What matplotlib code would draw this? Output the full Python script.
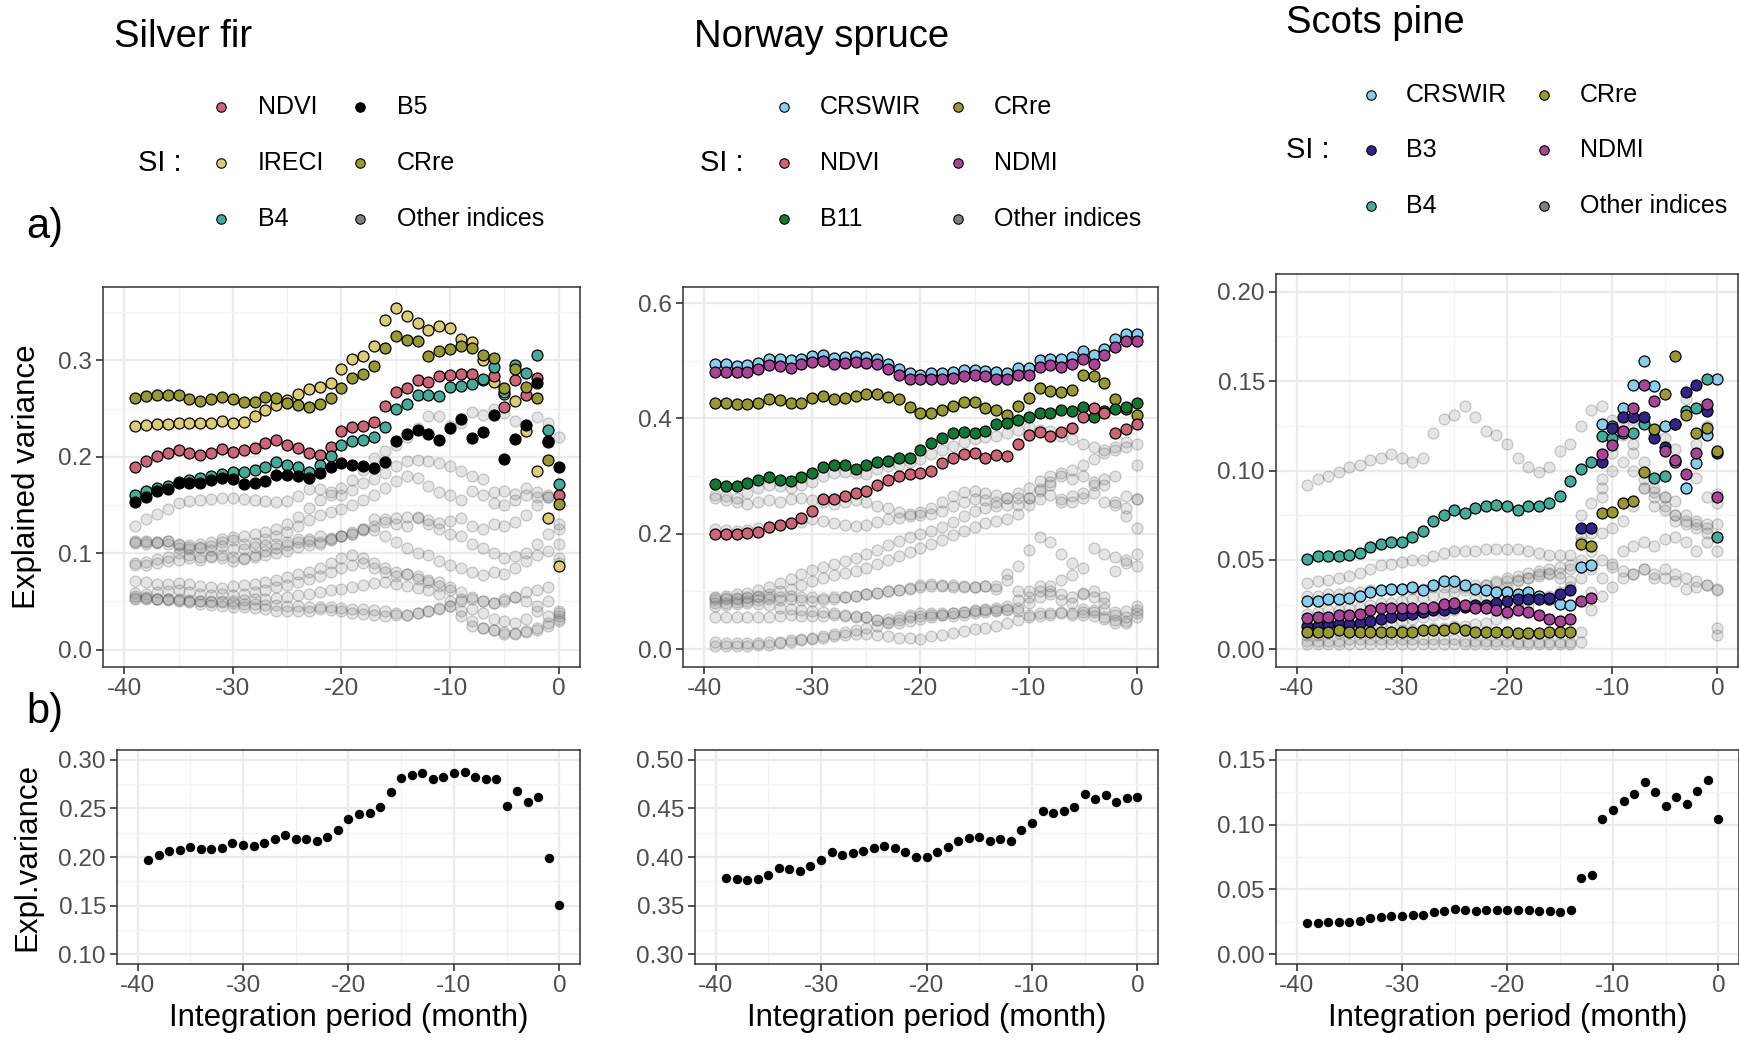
import matplotlib.pyplot as plt
from matplotlib.lines import Line2D
from matplotlib.ticker import FixedLocator, FormatStrFormatter

plt.rcParams['font.family'] = ['Liberation Sans', 'DejaVu Sans']

W, H = 1740, 1042
months = list(range(-39, 1))

C_NDVI = '#CC6677'
C_IRECI = '#DDCC77'
C_B4 = '#44AA99'
C_B5 = '#000000'
C_CRRE = '#999933'
C_CRSWIR = '#88CCEE'
C_NDMI = '#AA4499'
C_B11 = '#117733'
C_B3 = '#332288'
C_OTHER = '#808080'

# ---------------- Silver fir ----------------
fir_ireci = [0.232, 0.233, 0.234, 0.234, 0.235, 0.235, 0.235, 0.235, 0.237, 0.235,
             0.236, 0.242, 0.248, 0.254, 0.259, 0.265, 0.270, 0.272, 0.276, 0.291,
             0.301, 0.304, 0.315, 0.342, 0.354, 0.346, 0.339, 0.331, 0.336, 0.333,
             0.322, 0.319, 0.300, 0.277, 0.265, 0.258, 0.227, 0.185, 0.136, 0.087]
fir_ndvi = [0.189, 0.196, 0.201, 0.204, 0.207, 0.204, 0.202, 0.204, 0.208, 0.205,
            0.207, 0.209, 0.214, 0.217, 0.212, 0.209, 0.204, 0.202, 0.210, 0.227,
            0.231, 0.232, 0.236, 0.253, 0.267, 0.271, 0.280, 0.277, 0.284, 0.285,
            0.286, 0.286, 0.280, 0.284, 0.252, 0.280, 0.264, 0.282, 0.215, 0.160]
fir_b4 = [0.160, 0.165, 0.168, 0.170, 0.174, 0.176, 0.178, 0.180, 0.182, 0.184,
          0.184, 0.186, 0.189, 0.195, 0.191, 0.189, 0.184, 0.191, 0.201, 0.212,
          0.216, 0.217, 0.220, 0.231, 0.249, 0.255, 0.264, 0.264, 0.263, 0.272,
          0.273, 0.275, 0.281, 0.293, 0.267, 0.295, 0.287, 0.306, 0.228, 0.172]
fir_crre = [0.261, 0.263, 0.264, 0.264, 0.264, 0.260, 0.258, 0.260, 0.262, 0.260,
            0.257, 0.257, 0.262, 0.261, 0.256, 0.254, 0.252, 0.255, 0.261, 0.271,
            0.282, 0.286, 0.294, 0.313, 0.325, 0.321, 0.320, 0.304, 0.310, 0.312,
            0.315, 0.313, 0.305, 0.302, 0.271, 0.291, 0.272, 0.261, 0.197, 0.151]
fir_b5 = [0.153, 0.158, 0.164, 0.167, 0.173, 0.173, 0.173, 0.176, 0.178, 0.177,
          0.172, 0.173, 0.175, 0.181, 0.181, 0.180, 0.178, 0.183, 0.189, 0.193,
          0.191, 0.190, 0.188, 0.195, 0.216, 0.224, 0.228, 0.224, 0.217, 0.230,
          0.239, 0.219, 0.226, 0.243, 0.198, 0.218, 0.233, 0.276, 0.216, 0.189]
fir_other = [
    [0.128, 0.135, 0.141, 0.146, 0.152, 0.154, 0.155, 0.156, 0.157, 0.157,
     0.156, 0.155, 0.154, 0.153, 0.154, 0.159, 0.167, 0.167, 0.163, 0.160,
     0.166, 0.173, 0.177, 0.183, 0.190, 0.196, 0.197, 0.196, 0.194, 0.190,
     0.185, 0.180, 0.177, 0.163, 0.165, 0.161, 0.168, 0.163, 0.158, 0.125],
    [0.112, 0.113, 0.112, 0.110, 0.108, 0.109, 0.110, 0.112, 0.115, 0.117,
     0.118, 0.120, 0.122, 0.125, 0.130, 0.138, 0.147, 0.155, 0.160, 0.168,
     0.176, 0.186, 0.199, 0.206, 0.212, 0.220, 0.230, 0.242, 0.242, 0.232,
     0.235, 0.246, 0.243, 0.249, 0.245, 0.237, 0.232, 0.241, 0.235, 0.220],
    [0.111, 0.110, 0.111, 0.113, 0.105, 0.104, 0.106, 0.107, 0.112, 0.114,
     0.110, 0.111, 0.115, 0.118, 0.122, 0.128, 0.134, 0.140, 0.143, 0.146,
     0.150, 0.155, 0.160, 0.168, 0.175, 0.180, 0.178, 0.170, 0.163, 0.160,
     0.155, 0.165, 0.160, 0.152, 0.150, 0.155, 0.160, 0.158, 0.160, 0.130],
    [0.090, 0.091, 0.094, 0.096, 0.100, 0.098, 0.096, 0.097, 0.095, 0.092,
     0.094, 0.096, 0.098, 0.100, 0.102, 0.106, 0.108, 0.112, 0.115, 0.118,
     0.120, 0.124, 0.128, 0.132, 0.136, 0.138, 0.137, 0.134, 0.131, 0.133,
     0.136, 0.128, 0.125, 0.130, 0.128, 0.132, 0.140, 0.150, 0.158, 0.110],
    [0.088, 0.088, 0.090, 0.092, 0.093, 0.095, 0.093, 0.096, 0.098, 0.096,
     0.095, 0.098, 0.102, 0.105, 0.108, 0.112, 0.115, 0.118, 0.116, 0.118,
     0.120, 0.125, 0.135, 0.135, 0.130, 0.128, 0.138, 0.130, 0.125, 0.120,
     0.118, 0.110, 0.105, 0.100, 0.095, 0.097, 0.100, 0.110, 0.120, 0.095],
    [0.113, 0.112, 0.112, 0.113, 0.110, 0.106, 0.105, 0.103, 0.107, 0.104,
     0.104, 0.106, 0.108, 0.110, 0.112, 0.115, 0.113, 0.110, 0.114, 0.118,
     0.122, 0.125, 0.124, 0.118, 0.112, 0.105, 0.100, 0.098, 0.092, 0.088,
     0.085, 0.080, 0.077, 0.080, 0.078, 0.085, 0.092, 0.098, 0.102, 0.090],
    [0.071, 0.070, 0.068, 0.068, 0.069, 0.068, 0.066, 0.065, 0.064, 0.066,
     0.067, 0.068, 0.070, 0.072, 0.075, 0.078, 0.080, 0.085, 0.090, 0.095,
     0.098, 0.095, 0.090, 0.085, 0.080, 0.078, 0.076, 0.072, 0.070, 0.065,
     0.060, 0.055, 0.050, 0.048, 0.050, 0.055, 0.060, 0.062, 0.065, 0.040],
    [0.059, 0.058, 0.060, 0.061, 0.062, 0.060, 0.058, 0.057, 0.058, 0.057,
     0.058, 0.060, 0.062, 0.065, 0.067, 0.070, 0.073, 0.076, 0.080, 0.085,
     0.088, 0.090, 0.085, 0.080, 0.076, 0.078, 0.073, 0.070, 0.066, 0.062,
     0.052, 0.042, 0.038, 0.032, 0.030, 0.028, 0.032, 0.040, 0.050, 0.032],
    [0.054, 0.054, 0.053, 0.053, 0.052, 0.051, 0.050, 0.050, 0.049, 0.048,
     0.047, 0.047, 0.046, 0.046, 0.045, 0.045, 0.044, 0.044, 0.044, 0.043,
     0.042, 0.042, 0.041, 0.040, 0.038, 0.036, 0.038, 0.040, 0.042, 0.045,
     0.040, 0.030, 0.022, 0.020, 0.018, 0.017, 0.018, 0.020, 0.025, 0.030],
    [0.052, 0.052, 0.052, 0.051, 0.051, 0.050, 0.050, 0.049, 0.050, 0.050,
     0.051, 0.052, 0.053, 0.054, 0.055, 0.057, 0.058, 0.060, 0.062, 0.063,
     0.065, 0.067, 0.069, 0.070, 0.068, 0.066, 0.064, 0.062, 0.058, 0.050,
     0.035, 0.025, 0.022, 0.020, 0.016, 0.016, 0.019, 0.022, 0.028, 0.035],
    [0.056, 0.055, 0.053, 0.052, 0.050, 0.049, 0.047, 0.046, 0.045, 0.044,
     0.044, 0.043, 0.042, 0.040, 0.040, 0.040, 0.040, 0.042, 0.041, 0.040,
     0.038, 0.037, 0.036, 0.035, 0.036, 0.036, 0.038, 0.040, 0.043, 0.045,
     0.050, 0.052, 0.050, 0.048, 0.052, 0.055, 0.050, 0.045, 0.035, 0.038],
]
fir_total = [0.197, 0.202, 0.206, 0.207, 0.210, 0.208, 0.208, 0.209, 0.214, 0.212,
             0.211, 0.214, 0.218, 0.223, 0.219, 0.219, 0.216, 0.221, 0.228, 0.239,
             0.244, 0.245, 0.251, 0.267, 0.281, 0.284, 0.286, 0.280, 0.282, 0.286,
             0.287, 0.282, 0.280, 0.280, 0.252, 0.268, 0.257, 0.262, 0.199, 0.151]

# ---------------- Norway spruce ----------------
spr_crswir = [0.494, 0.494, 0.491, 0.492, 0.497, 0.504, 0.503, 0.501, 0.504, 0.508,
              0.510, 0.505, 0.506, 0.508, 0.507, 0.503, 0.494, 0.485, 0.478, 0.476,
              0.478, 0.479, 0.481, 0.484, 0.484, 0.483, 0.481, 0.479, 0.488, 0.488,
              0.501, 0.504, 0.503, 0.507, 0.517, 0.510, 0.521, 0.537, 0.547, 0.546]
spr_ndmi = [0.481, 0.481, 0.480, 0.480, 0.485, 0.492, 0.491, 0.488, 0.494, 0.498,
            0.499, 0.495, 0.496, 0.498, 0.497, 0.494, 0.485, 0.476, 0.468, 0.468,
            0.468, 0.469, 0.471, 0.474, 0.475, 0.473, 0.469, 0.468, 0.475, 0.476,
            0.490, 0.492, 0.490, 0.494, 0.503, 0.494, 0.510, 0.524, 0.535, 0.535]
spr_crre = [0.426, 0.426, 0.425, 0.425, 0.426, 0.434, 0.432, 0.426, 0.427, 0.435,
            0.439, 0.434, 0.435, 0.439, 0.443, 0.442, 0.438, 0.433, 0.420, 0.410,
            0.410, 0.414, 0.421, 0.428, 0.429, 0.418, 0.414, 0.406, 0.421, 0.435,
            0.453, 0.447, 0.446, 0.449, 0.475, 0.473, 0.462, 0.433, 0.416, 0.406]
spr_b11 = [0.287, 0.283, 0.283, 0.288, 0.294, 0.298, 0.294, 0.292, 0.298, 0.305,
           0.315, 0.320, 0.319, 0.313, 0.319, 0.325, 0.326, 0.331, 0.331, 0.345,
           0.357, 0.366, 0.374, 0.377, 0.375, 0.379, 0.391, 0.392, 0.397, 0.403,
           0.410, 0.410, 0.414, 0.413, 0.420, 0.402, 0.413, 0.416, 0.420, 0.427]
spr_ndvi = [0.199, 0.199, 0.199, 0.201, 0.203, 0.212, 0.216, 0.219, 0.228, 0.239,
            0.260, 0.261, 0.265, 0.270, 0.275, 0.284, 0.293, 0.300, 0.303, 0.305,
            0.309, 0.322, 0.331, 0.338, 0.340, 0.332, 0.336, 0.335, 0.355, 0.371,
            0.377, 0.370, 0.377, 0.384, 0.403, 0.419, 0.410, 0.375, 0.381, 0.390]
spr_other = [
    [0.268, 0.265, 0.262, 0.270, 0.280, 0.285, 0.283, 0.280, 0.285, 0.290,
     0.300, 0.305, 0.308, 0.305, 0.303, 0.312, 0.318, 0.320, 0.325, 0.330,
     0.338, 0.345, 0.352, 0.360, 0.365, 0.368, 0.370, 0.375, 0.380, 0.385,
     0.380, 0.378, 0.370, 0.365, 0.355, 0.350, 0.345, 0.350, 0.360, 0.355],
    [0.262, 0.258, 0.255, 0.252, 0.255, 0.258, 0.255, 0.260, 0.262, 0.258,
     0.255, 0.252, 0.255, 0.258, 0.255, 0.248, 0.245, 0.238, 0.235, 0.238,
     0.245, 0.255, 0.265, 0.272, 0.275, 0.270, 0.268, 0.262, 0.250, 0.262,
     0.275, 0.285, 0.260, 0.255, 0.262, 0.270, 0.255, 0.255, 0.265, 0.260],
    [0.208, 0.207, 0.205, 0.206, 0.210, 0.212, 0.215, 0.218, 0.220, 0.225,
     0.222, 0.218, 0.215, 0.213, 0.215, 0.220, 0.225, 0.228, 0.230, 0.232,
     0.235, 0.240, 0.248, 0.255, 0.260, 0.258, 0.255, 0.262, 0.270, 0.280,
     0.292, 0.300, 0.305, 0.310, 0.320, 0.330, 0.340, 0.345, 0.350, 0.320],
    [0.090, 0.092, 0.095, 0.098, 0.102, 0.108, 0.115, 0.122, 0.130, 0.138,
     0.143, 0.148, 0.152, 0.158, 0.165, 0.172, 0.180, 0.188, 0.195, 0.200,
     0.205, 0.212, 0.220, 0.230, 0.240, 0.245, 0.248, 0.250, 0.262, 0.262,
     0.278, 0.290, 0.300, 0.295, 0.300, 0.290, 0.285, 0.250, 0.245, 0.210],
    [0.085, 0.087, 0.088, 0.090, 0.092, 0.095, 0.100, 0.105, 0.112, 0.118,
     0.123, 0.128, 0.132, 0.135, 0.140, 0.148, 0.155, 0.162, 0.168, 0.175,
     0.182, 0.190, 0.198, 0.205, 0.212, 0.218, 0.222, 0.225, 0.235, 0.250,
     0.260, 0.268, 0.255, 0.265, 0.270, 0.285, 0.295, 0.300, 0.230, 0.260],
    [0.088, 0.088, 0.087, 0.088, 0.090, 0.091, 0.090, 0.092, 0.091, 0.090,
     0.089, 0.090, 0.090, 0.092, 0.095, 0.098, 0.100, 0.103, 0.106, 0.112,
     0.113, 0.112, 0.111, 0.110, 0.108, 0.109, 0.110, 0.130, 0.145, 0.172,
     0.195, 0.185, 0.165, 0.150, 0.140, 0.175, 0.165, 0.160, 0.150, 0.165],
    [0.080, 0.080, 0.082, 0.084, 0.086, 0.087, 0.086, 0.087, 0.085, 0.084,
     0.086, 0.087, 0.090, 0.092, 0.095, 0.097, 0.100, 0.102, 0.105, 0.108,
     0.110, 0.110, 0.108, 0.107, 0.108, 0.110, 0.105, 0.120, 0.100, 0.090,
     0.100, 0.110, 0.120, 0.128, 0.095, 0.100, 0.090, 0.135, 0.155, 0.145],
    [0.055, 0.055, 0.055, 0.055, 0.055, 0.055, 0.057, 0.060, 0.058, 0.057,
     0.058, 0.060, 0.058, 0.056, 0.055, 0.050, 0.052, 0.055, 0.060, 0.062,
     0.062, 0.060, 0.058, 0.060, 0.062, 0.065, 0.066, 0.068, 0.072, 0.080,
     0.090, 0.095, 0.085, 0.080, 0.070, 0.065, 0.055, 0.050, 0.048, 0.055],
    [0.075, 0.076, 0.078, 0.080, 0.078, 0.076, 0.072, 0.070, 0.068, 0.066,
     0.065, 0.062, 0.060, 0.058, 0.055, 0.050, 0.047, 0.045, 0.048, 0.052,
     0.055, 0.060, 0.062, 0.065, 0.066, 0.068, 0.068, 0.070, 0.066, 0.060,
     0.062, 0.062, 0.065, 0.062, 0.060, 0.058, 0.052, 0.045, 0.046, 0.062],
    [0.005, 0.005, 0.005, 0.006, 0.007, 0.008, 0.010, 0.012, 0.015, 0.018,
     0.020, 0.022, 0.025, 0.027, 0.026, 0.024, 0.022, 0.020, 0.020, 0.018,
     0.022, 0.025, 0.028, 0.032, 0.035, 0.037, 0.040, 0.045, 0.050, 0.055,
     0.058, 0.060, 0.062, 0.060, 0.065, 0.068, 0.070, 0.065, 0.066, 0.068],
    [0.012, 0.011, 0.010, 0.010, 0.011, 0.012, 0.013, 0.015, 0.017, 0.020,
     0.023, 0.026, 0.030, 0.033, 0.036, 0.040, 0.045, 0.050, 0.055, 0.058,
     0.060, 0.062, 0.063, 0.065, 0.068, 0.070, 0.072, 0.075, 0.085, 0.100,
     0.110, 0.100, 0.095, 0.090, 0.098, 0.090, 0.080, 0.060, 0.055, 0.075],
]
spr_total = [0.378, 0.377, 0.376, 0.377, 0.381, 0.389, 0.388, 0.386, 0.391, 0.397,
             0.405, 0.402, 0.404, 0.406, 0.409, 0.411, 0.409, 0.405, 0.400, 0.400,
             0.405, 0.410, 0.416, 0.420, 0.421, 0.416, 0.419, 0.416, 0.428, 0.435,
             0.447, 0.445, 0.447, 0.451, 0.465, 0.460, 0.464, 0.457, 0.461, 0.462]

# ---------------- Scots pine ----------------
pin_crswir = [0.027, 0.027, 0.028, 0.028, 0.029, 0.030, 0.032, 0.033, 0.034, 0.034,
              0.035, 0.033, 0.036, 0.038, 0.038, 0.036, 0.034, 0.033, 0.032, 0.032,
              0.031, 0.032, 0.030, 0.028, 0.0255, 0.025, 0.046, 0.047, 0.126, 0.125,
              0.135, 0.148, 0.161, 0.147, 0.125, 0.105, 0.090, 0.104, 0.120, 0.151]
pin_b4 = [0.0505, 0.052, 0.052, 0.052, 0.053, 0.054, 0.057, 0.059, 0.060, 0.060,
          0.063, 0.066, 0.072, 0.075, 0.078, 0.076, 0.079, 0.080, 0.081, 0.080,
          0.078, 0.080, 0.080, 0.082, 0.086, 0.094, 0.101, 0.105, 0.119, 0.118,
          0.121, 0.121, 0.126, 0.096, 0.097, 0.126, 0.133, 0.135, 0.151, 0.063]
pin_b3 = [0.013, 0.013, 0.014, 0.014, 0.014, 0.015, 0.016, 0.017, 0.018, 0.019,
          0.020, 0.021, 0.022, 0.022, 0.023, 0.024, 0.025, 0.025, 0.026, 0.027,
          0.028, 0.028, 0.028, 0.029, 0.031, 0.033, 0.068, 0.068, 0.105, 0.124,
          0.130, 0.130, 0.130, 0.118, 0.113, 0.126, 0.144, 0.148, 0.133, 0.110]
pin_ndmi = [0.0177, 0.018, 0.018, 0.019, 0.019, 0.020, 0.022, 0.023, 0.023, 0.023,
            0.023, 0.023, 0.024, 0.0255, 0.026, 0.025, 0.023, 0.023, 0.022, 0.021,
            0.022, 0.021, 0.019, 0.017, 0.016, 0.017, 0.027, 0.029, 0.109, 0.114,
            0.122, 0.135, 0.148, 0.139, 0.111, 0.106, 0.098, 0.110, 0.137, 0.085]
pin_crre = [0.010, 0.010, 0.010, 0.011, 0.010, 0.010, 0.010, 0.010, 0.010, 0.010,
            0.010, 0.011, 0.011, 0.011, 0.012, 0.011, 0.010, 0.010, 0.010, 0.010,
            0.009, 0.009, 0.009, 0.010, 0.010, 0.010, 0.059, 0.058, 0.076, 0.077,
            0.082, 0.083, 0.099, 0.123, 0.143, 0.164, 0.131, 0.121, 0.124, 0.111]
pin_other = [
    [0.092, 0.095, 0.097, 0.099, 0.102, 0.103, 0.106, 0.107, 0.109, 0.107,
     0.105, 0.107, 0.121, 0.129, 0.131, 0.136, 0.130, 0.122, 0.120, 0.115,
     0.107, 0.102, 0.099, 0.102, 0.111, 0.115, 0.125, 0.134, 0.136, 0.128,
     0.125, 0.128, 0.130, 0.120, 0.118, 0.112, 0.140, 0.115, 0.125, 0.087],
    [0.037, 0.038, 0.039, 0.040, 0.041, 0.043, 0.045, 0.047, 0.048, 0.049,
     0.050, 0.050, 0.052, 0.054, 0.055, 0.055, 0.055, 0.056, 0.056, 0.056,
     0.056, 0.055, 0.054, 0.053, 0.053, 0.053, 0.063, 0.068, 0.085, 0.100,
     0.105, 0.100, 0.090, 0.080, 0.078, 0.072, 0.070, 0.070, 0.068, 0.055],
    [0.030, 0.030, 0.031, 0.031, 0.032, 0.032, 0.033, 0.033, 0.033, 0.034,
     0.034, 0.034, 0.035, 0.035, 0.035, 0.035, 0.036, 0.036, 0.037, 0.038,
     0.039, 0.040, 0.041, 0.042, 0.043, 0.045, 0.050, 0.055, 0.065, 0.068,
     0.072, 0.080, 0.090, 0.085, 0.080, 0.075, 0.075, 0.072, 0.070, 0.070],
    [0.020, 0.021, 0.022, 0.022, 0.023, 0.024, 0.025, 0.026, 0.026, 0.027,
     0.028, 0.029, 0.030, 0.031, 0.032, 0.033, 0.034, 0.036, 0.038, 0.040,
     0.041, 0.043, 0.044, 0.043, 0.040, 0.038, 0.040, 0.045, 0.050, 0.048,
     0.044, 0.042, 0.045, 0.040, 0.040, 0.038, 0.034, 0.035, 0.036, 0.034],
    [0.003, 0.003, 0.003, 0.003, 0.003, 0.003, 0.003, 0.003, 0.003, 0.003,
     0.003, 0.003, 0.003, 0.003, 0.003, 0.003, 0.003, 0.003, 0.003, 0.003,
     0.003, 0.003, 0.003, 0.003, 0.003, 0.003, 0.004, 0.022, 0.030, 0.035,
     0.040, 0.042, 0.045, 0.042, 0.045, 0.042, 0.040, 0.038, 0.036, 0.033],
    [0.005, 0.005, 0.005, 0.005, 0.006, 0.006, 0.006, 0.006, 0.006, 0.006,
     0.006, 0.006, 0.006, 0.006, 0.006, 0.005, 0.005, 0.005, 0.005, 0.005,
     0.004, 0.004, 0.004, 0.004, 0.004, 0.004, 0.010, 0.032, 0.040, 0.046,
     0.055, 0.058, 0.060, 0.058, 0.062, 0.063, 0.060, 0.055, 0.060, 0.012],
    [0.012, 0.012, 0.012, 0.013, 0.013, 0.013, 0.014, 0.014, 0.015, 0.016,
     0.017, 0.018, 0.019, 0.020, 0.022, 0.025, 0.028, 0.030, 0.032, 0.035,
     0.038, 0.040, 0.042, 0.045, 0.046, 0.047, 0.075, 0.082, 0.095, 0.110,
     0.120, 0.110, 0.095, 0.088, 0.085, 0.083, 0.090, 0.096, 0.085, 0.082],
    [0.008, 0.008, 0.009, 0.009, 0.010, 0.010, 0.010, 0.010, 0.010, 0.011,
     0.011, 0.011, 0.012, 0.012, 0.013, 0.013, 0.014, 0.015, 0.017, 0.020,
     0.023, 0.025, 0.028, 0.030, 0.032, 0.035, 0.060, 0.065, 0.090, 0.115,
     0.122, 0.115, 0.105, 0.090, 0.085, 0.075, 0.072, 0.068, 0.065, 0.008],
]
pin_total = [0.0241, 0.0241, 0.0246, 0.0246, 0.0251, 0.0256, 0.0277, 0.0284, 0.0292, 0.0297,
             0.0302, 0.0302, 0.0323, 0.0335, 0.0348, 0.0343, 0.0330, 0.0341, 0.0343, 0.0341,
             0.0341, 0.0341, 0.0330, 0.0330, 0.0328, 0.0343, 0.0591, 0.0609, 0.1044, 0.1116,
             0.1185, 0.1239, 0.1326, 0.1249, 0.1142, 0.1213, 0.1160, 0.1257, 0.1341, 0.1044]

species = [
    dict(title='Silver fir',
         legend=[('NDVI', C_NDVI), ('IRECI', C_IRECI), ('B4', C_B4),
                 ('B5', C_B5), ('CRre', C_CRRE), ('Other indices', C_OTHER)],
         series=[(fir_ireci, C_IRECI), (fir_ndvi, C_NDVI), (fir_b4, C_B4),
                 (fir_crre, C_CRRE), (fir_b5, C_B5)],
         other=fir_other, total=fir_total,
         top_box=(103, 287, 580, 667), top_ylim=(-0.018, 0.376),
         top_ticks=[0.0, 0.1, 0.2, 0.3], top_fmt='%.1f',
         bot_box=(117, 750, 580, 964), bot_ylim=(0.09, 0.31),
         bot_ticks=[0.10, 0.15, 0.20, 0.25, 0.30],
         title_xy=(114, 47), si_x=138, mk_x=(221, 360), txt_x=(258, 397),
         rows=(107, 163, 219)),
    dict(title='Norway spruce',
         legend=[('CRSWIR', C_CRSWIR), ('NDVI', C_NDVI), ('B11', C_B11),
                 ('CRre', C_CRRE), ('NDMI', C_NDMI), ('Other indices', C_OTHER)],
         series=[(spr_crswir, C_CRSWIR), (spr_ndmi, C_NDMI), (spr_crre, C_CRRE),
                 (spr_b11, C_B11), (spr_ndvi, C_NDVI)],
         other=spr_other, total=spr_total,
         top_box=(683, 287, 1158, 667), top_ylim=(-0.031, 0.628),
         top_ticks=[0.0, 0.2, 0.4, 0.6], top_fmt='%.1f',
         bot_box=(695, 750, 1158, 964), bot_ylim=(0.29, 0.51),
         bot_ticks=[0.30, 0.35, 0.40, 0.45, 0.50],
         title_xy=(694, 47), si_x=700, mk_x=(784, 958), txt_x=(820, 994),
         rows=(107, 163, 219)),
    dict(title='Scots pine',
         legend=[('CRSWIR', C_CRSWIR), ('B3', C_B3), ('B4', C_B4),
                 ('CRre', C_CRRE), ('NDMI', C_NDMI), ('Other indices', C_OTHER)],
         series=[(pin_crswir, C_CRSWIR), (pin_b4, C_B4), (pin_b3, C_B3),
                 (pin_ndmi, C_NDMI), (pin_crre, C_CRRE)],
         other=pin_other, total=pin_total,
         top_box=(1276, 274, 1738, 667), top_ylim=(-0.0098, 0.2098),
         top_ticks=[0.0, 0.05, 0.10, 0.15, 0.20], top_fmt='%.2f',
         bot_box=(1276, 750, 1739, 964), bot_ylim=(-0.0075, 0.1575),
         bot_ticks=[0.0, 0.05, 0.10, 0.15],
         title_xy=(1286, 33), si_x=1286, mk_x=(1371, 1544), txt_x=(1406, 1580),
         rows=(95, 150, 206)),
]

XLIM = (-41.95, 1.95)
XTICKS = [-40, -30, -20, -10, 0]


def fx(x):
    return x / W


def fy(y):
    return 1 - y / H


def make_axes(fig, box):
    x0, y0, x1, y1 = box
    return fig.add_axes([fx(x0), fy(y1), (x1 - x0) / W, (y1 - y0) / H])


def style(ax, ylim, yticks, fmt):
    ax.set_xlim(XLIM)
    ax.set_ylim(ylim)
    ax.xaxis.set_major_locator(FixedLocator(XTICKS))
    ax.xaxis.set_minor_locator(FixedLocator([-35, -25, -15, -5]))
    ax.yaxis.set_major_locator(FixedLocator(yticks))
    step = yticks[1] - yticks[0]
    minors = [t + step / 2 for t in [yticks[0] - step] + yticks]
    ax.yaxis.set_minor_locator(FixedLocator(minors))
    ax.yaxis.set_major_formatter(FormatStrFormatter(fmt))
    ax.xaxis.set_major_formatter(FormatStrFormatter('%d'))
    ax.grid(which='major', color='#EBEBEB', lw=1.6)
    ax.grid(which='minor', color='#F2F2F2', lw=0.9)
    ax.set_axisbelow(True)
    for s in ax.spines.values():
        s.set_color('#333333')
        s.set_linewidth(1.1)
    ax.tick_params(which='major', direction='out', length=5, width=1.2,
                   color='#333333', labelcolor='#4D4D4D', labelsize=17.5, pad=3)
    ax.tick_params(which='minor', length=0)


fig = plt.figure(figsize=(W / 100, H / 100), dpi=100)

for sp in species:
    ax = make_axes(fig, sp['top_box'])
    for vals in sp['other']:
        ax.scatter(months, vals, s=62, facecolor=(0.5, 0.5, 0.5, 0.2),
                   edgecolor=(0.3, 0.3, 0.3, 0.28), linewidth=0.9, zorder=2)
    for vals, col in sp['series']:
        ax.scatter(months, vals, s=62, color=col, edgecolor='black',
                   linewidth=0.9, zorder=3)
    style(ax, sp['top_ylim'], sp['top_ticks'], sp['top_fmt'])

    axb = make_axes(fig, sp['bot_box'])
    axb.scatter(months, sp['total'], s=46, color='black', linewidth=0, zorder=3)
    style(axb, sp['bot_ylim'], sp['bot_ticks'], '%.2f')
    axb.set_xlabel('Integration period (month)', fontsize=22.5, labelpad=4)

    # title and legend
    tx, ty = sp['title_xy']
    fig.text(fx(tx), fy(ty), sp['title'], fontsize=27.5, va='baseline', ha='left')
    rows = sp['rows']
    fig.text(fx(sp['si_x']), fy(rows[1]), 'SI :', fontsize=21, va='center', ha='left')
    for i, (name, col) in enumerate(sp['legend']):
        c, r = divmod(i, 3)
        fig.add_artist(Line2D([fx(sp['mk_x'][c])], [fy(rows[r])],
                              transform=fig.transFigure, marker='o', ms=6.8,
                              mfc=col, mec='black', mew=0.8, ls='none'))
        fig.text(fx(sp['txt_x'][c]), fy(rows[r]), name, fontsize=18,
                 va='center', ha='left')

fig.text(fx(45), fy(227), 'a)', fontsize=30, ha='center', va='center')
fig.text(fx(45), fy(712), 'b)', fontsize=30, ha='center', va='center')
fig.text(fx(27), fy(477), 'Explained variance', fontsize=22.5, rotation=90,
         ha='center', va='center')
fig.text(fx(27), fy(857), 'Expl.variance', fontsize=22.5, rotation=90,
         ha='center', va='center')

fig.savefig('out.png', dpi=100)
